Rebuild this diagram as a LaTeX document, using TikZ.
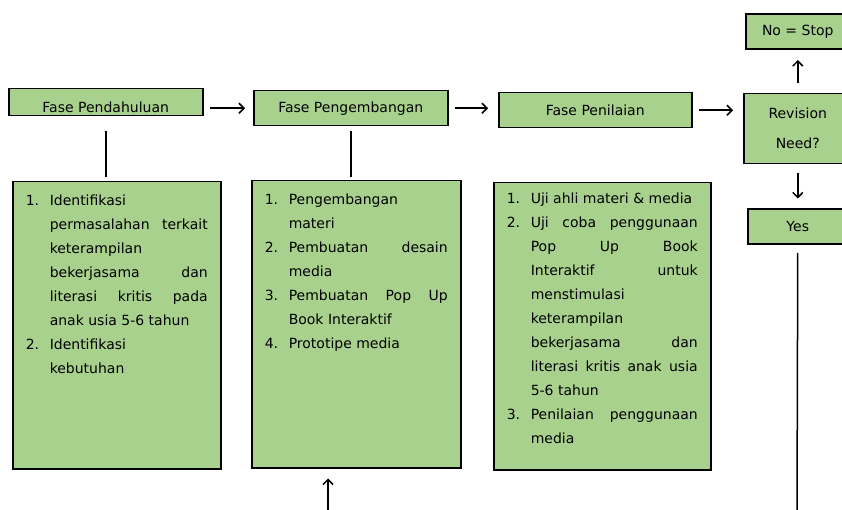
\documentclass[tikz,border=0pt]{standalone}
\usepackage{fontspec}
\setmainfont{DejaVu Sans}
\usepackage{enumitem}
\usetikzlibrary{arrows.meta, positioning}
\definecolor{pgreen}{HTML}{A9D18E}
\newlist{phaselist}{enumerate}{1}
\setlist[phaselist]{label=\arabic*., leftmargin=24pt, labelwidth=24pt, labelsep=0pt,
  align=left, itemsep=0pt, topsep=0pt, parsep=0pt, partopsep=0pt}
\tikzset{
  phase/.style={rectangle, draw=black, line width=1.5pt, fill=pgreen, align=center,
                font=\fontsize{14}{16}\selectfont, inner sep=2pt},
  listbox/.style={rectangle, draw=black, line width=1.5pt, fill=pgreen, anchor=north west,
                  inner xsep=13pt, inner ysep=0pt, align=justify,
                  font=\fontsize{14}{24}\selectfont, text height=0pt, text depth=287pt},
  flow/.style={-{Straight Barb[length=5pt, width=10pt]}, line width=1.5pt},
  link/.style={line width=1.5pt}
}

\begin{document}
\begin{tikzpicture}[x=1pt, y=-1pt]
  \useasboundingbox (0,0) rectangle (842,510);
  \clip (0,0) rectangle (842,510);

  % phases
  \node[phase, minimum width=194pt, minimum height=27pt, anchor=north west,
        text height=20pt, text depth=0pt, inner ysep=3.5pt] (pend) at (8,88) {Fase Pendahuluan};
  \node[phase, minimum width=194pt, minimum height=35pt, anchor=north west] (peng) at (253,90) {Fase Pengembangan};
  \node[phase, minimum width=193pt, minimum height=35pt, anchor=north west] (nilai) at (498,92) {Fase Penilaian};

  % decision column
  \node[phase, minimum width=108pt, minimum height=70pt, anchor=north west,
        font=\fontsize{14}{30}\selectfont] (revisi) at (743,93) {Revision\\Need?};
  \node[phase, minimum width=104pt, minimum height=35pt, above=43pt of revisi] (stop) {No = Stop};
  \node[phase, minimum width=100pt, minimum height=35pt, below=44pt of revisi] (yes) {Yes};

  % activities
  \node[listbox, text width=182pt] (list1) at (12,181) {%
    \begin{phaselist}
      \item Identifikasi\newline permasalahan terkait\linebreak keterampilan\newline
            bekerjasama dan\linebreak literasi kritis pada\linebreak anak usia 5-6 tahun
      \item Identifikasi\newline kebutuhan
    \end{phaselist}};
  \node[listbox, text width=183pt] (list2) at (251,180) {%
    \begin{phaselist}
      \item Pengembangan\newline materi
      \item Pembuatan desain\linebreak media
      \item Pembuatan Pop Up\linebreak Book Interaktif
      \item Prototipe media
    \end{phaselist}};
  \node[listbox, text width=191pt] (list3) at (493,182) {%
    \vspace*{-3pt}%
    \begin{phaselist}
      \item Uji ahli materi \& media
      \item Uji coba penggunaan\linebreak Pop Up Book\linebreak Interaktif untuk\linebreak
            menstimulasi\newline keterampilan\newline bekerjasama dan\linebreak
            literasi kritis anak usia\linebreak 5-6 tahun
      \item Penilaian penggunaan\linebreak media
    \end{phaselist}};

  % connectors
  \draw[link, shorten <=15pt, shorten >=4pt] (pend.south) -- (pend.south |- list1.north);
  \draw[link, shorten <=5pt, shorten >=3pt] (peng.south) -- (peng.south |- list2.north);
  \draw[flow, shorten <=6pt, shorten >=8pt] (pend.east |- peng.west) -- (peng.west);
  \draw[flow, shorten <=6pt, shorten >=10pt] (peng.east) -- (peng.east -| nilai.west);
  \draw[flow, shorten <=6pt, shorten >=10pt] (nilai.east) -- (nilai.east -| revisi.west);
  \draw[flow, shorten <=10pt, shorten >=10pt] (revisi.north) -- (stop.south);
  \draw[flow, shorten <=9pt, shorten >=10pt] (revisi.south) -- (yes.north);

  % loop back
  \coordinate (yesend) at (797,515);
  \coordinate (backin) at (328,515);
  \draw[link, shorten <=8pt] (yes.south) -- (yesend);
  \draw[flow, shorten >=10pt] (backin) -- (backin |- list2.south);
\end{tikzpicture}
\end{document}
